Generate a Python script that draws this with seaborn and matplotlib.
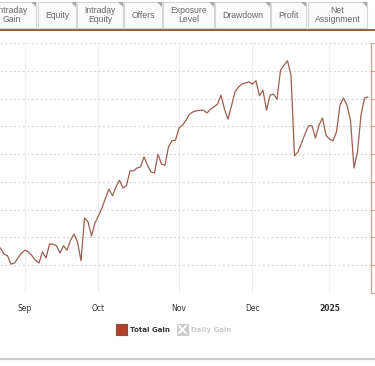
import numpy as np
import pandas as pd
import matplotlib
matplotlib.use("Agg")
import matplotlib.pyplot as plt
from matplotlib.patches import Rectangle, Polygon
from matplotlib.lines import Line2D
import seaborn as sns

# daily total gain (%), one value per business day starting 2024-08-22
start_date = "2024-08-22"
total_gain = [
    3.1, 2.0, 1.7, 0.2, 0.4, 1.3, 2.2,
    2.7, 2.4, 1.7, 0.9, 0.4, 2.4, 1.3, 3.8, 3.8, 3.5,
    2.2, 3.5, 2.7, 4.5, 5.6, 4.2, 0.8, 8.5, 7.8, 5.3,
    7.6, 8.9, 10.3, 12.1, 13.7, 12.5, 14.1, 15.3, 13.9, 14.3,
    17.0, 17.0, 17.5, 17.7, 19.5, 18.0, 16.8, 16.6, 20.0, 18.2,
    18.0, 21.3, 22.4, 22.5, 24.7, 25.2, 26.1, 27.2, 27.6, 27.8,
    27.9, 27.9, 27.4, 28.1, 28.5, 29.0, 30.6, 28.1, 26.3, 28.7,
    31.2, 32.1, 32.6, 32.8, 33.0, 32.6, 33.2, 30.5, 31.5, 27.9,
    30.6, 30.8, 29.9, 35.1, 36.0, 36.8, 34.2, 19.7, 20.4, 22.0,
    23.6, 25.1, 25.1, 22.9, 25.2, 26.5, 23.4, 22.7, 22.4, 24.0,
    28.8, 30.1, 28.8, 26.1, 17.5, 20.4, 27.0, 30.1, 30.3,
]
month_labels = ["Sep", "Oct", "Nov", "Dec", "2025"]
tab_labels = ["Intraday\nGain", "Equity", "Intraday\nEquity", "Offers",
              "Exposure\nLevel", "Drawdown", "Profit", "Net\nAssignment"]
legend_labels = ["Total Gain", "Daily Gain"]

W, H = 375, 366


def fx(x):
    return x / W


def fy(y):
    return 1 - y / H


df = pd.DataFrame({
    "date": pd.bdate_range(start_date, periods=len(total_gain)),
    "gain": total_gain,
})
df["pos"] = np.arange(len(df))
month_start = df.index[df["date"].dt.month != df["date"].dt.month.shift()][1:]

sns.set_style("white")
plt.rcParams["font.family"] = ["DejaVu Sans"]

fig = plt.figure(figsize=(W / 100, H / 100), dpi=100)
ax = fig.add_axes([0, fy(293), fx(371), fy(43) - fy(293)])

sns.lineplot(data=df, x="pos", y="gain", color="#9c5f50", linewidth=0.9, ax=ax)

ax.set_xlim(-0.14, len(df) - 0.14)
ax.set_ylim(-5, 40)
ax.set_yticks(np.arange(-5, 41, 5))
ax.set_xticks(month_start)
ax.set_xticklabels(month_labels, fontsize=5.5, color="#333333")
ax.get_xticklabels()[-1].set_fontweight("bold")
ax.set_xlabel("")
ax.set_ylabel("")

ax.yaxis.grid(True, linestyle=(0, (2, 2)), color="#d9d9d9", linewidth=0.8)
ax.xaxis.grid(True, color="#eeeeee", linewidth=0.8)
ax.tick_params(axis="x", length=0, pad=8)
ax.tick_params(axis="y", left=False, right=True, labelleft=False, labelright=False,
               length=3, width=0.8, color="#c9a697", direction="out")
for side in ["left", "top", "bottom"]:
    ax.spines[side].set_visible(False)
ax.spines["right"].set_color("#c9a697")
ax.spines["right"].set_linewidth(1.0)

# tab strip at the top (first tab runs off the left edge, as in the screenshot)
tab_edges = [(-12, 36), (38, 76), (77, 123), (124, 162), (163, 214),
             (215, 270), (271, 306), (308, 367)]
for (x0, x1), label in zip(tab_edges, tab_labels):
    fig.add_artist(Rectangle((fx(x0), fy(28)), fx(x1 - x0), 26 / H,
                             transform=fig.transFigure, facecolor="#fbfbfb",
                             edgecolor="#d6d6d6", linewidth=0.8))
    fig.add_artist(Polygon([(fx(x1 - 5), fy(2)), (fx(x1), fy(2)), (fx(x1), fy(7))],
                           transform=fig.transFigure, facecolor="#a8a8a8",
                           edgecolor="none"))
    fig.text(fx((x0 + x1) / 2), fy(15), label, ha="center", va="center",
             fontsize=6.2, color="#666666", family=["Liberation Sans"],
             linespacing=1.1)
fig.add_artist(Line2D([0, 1], [fy(29.5), fy(29.5)], transform=fig.transFigure,
                      color="#8e6249", linewidth=1.4))

# legend
fig.add_artist(Rectangle((fx(116), fy(335)), fx(11), 11 / H, transform=fig.transFigure,
                         facecolor="#b0422c", edgecolor="#8c4a30", linewidth=0.8))
fig.text(fx(130), fy(330), legend_labels[0], ha="left", va="center",
         fontsize=5.0, fontweight="bold", color="#333333")
fig.add_artist(Rectangle((fx(177), fy(335)), fx(11), 11 / H, transform=fig.transFigure,
                         facecolor="#cccccc", edgecolor="#cccccc", linewidth=0.8))
for (a, b), (c, d) in [((179, 326), (186, 333)), ((179, 333), (186, 326))]:
    fig.add_artist(Line2D([fx(a), fx(c)], [fy(b), fy(d)], transform=fig.transFigure,
                          color="white", linewidth=1.4))
fig.text(fx(191), fy(330), legend_labels[1], ha="left", va="center",
         fontsize=5.0, fontweight="bold", color="#cccccc")

fig.add_artist(Line2D([0, 1], [fy(359), fy(359)], transform=fig.transFigure,
                      color="#cfcfcf", linewidth=1.6))

fig.savefig("out.png", dpi=100)
